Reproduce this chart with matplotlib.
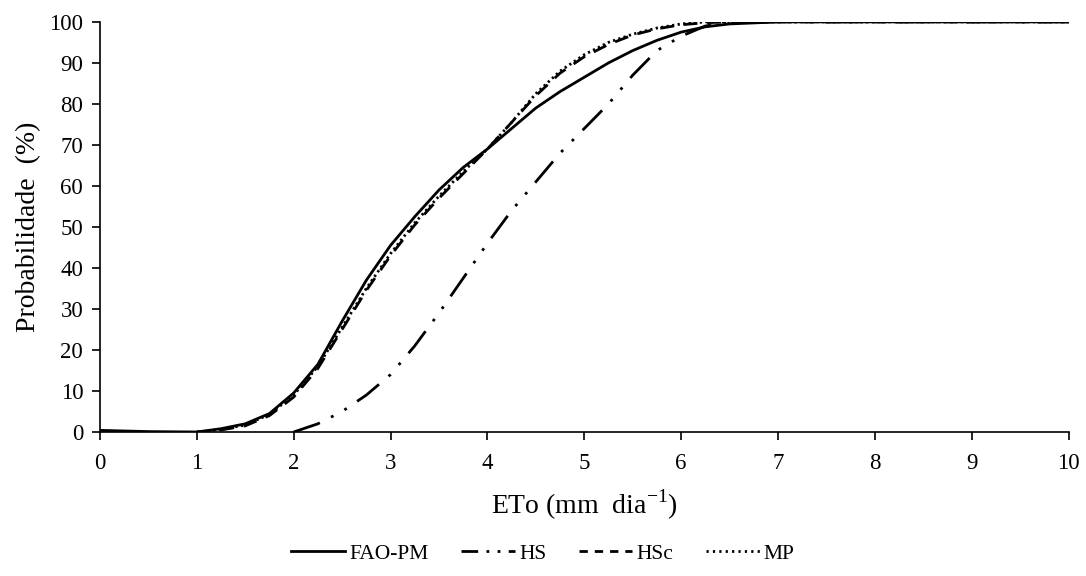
import numpy as np
import matplotlib.pyplot as plt
from matplotlib.lines import Line2D

# Curvas de probabilidade acumulada (%)
x_fao = [0, 0.5, 1.0, 1.25, 1.5, 1.75, 2.0, 2.25, 2.5, 2.75, 3.0, 3.25, 3.5, 3.75, 4.0,
         4.25, 4.5, 4.75, 5.0, 5.25, 5.5, 5.75, 6.0, 6.25, 6.5, 7.0, 8.0, 9.0, 10.0]
y_fao = [0.4, 0.1, 0, 0.8, 2.0, 4.5, 9.5, 16.5, 27, 37, 45.5, 52.5, 59, 64.5, 69,
         74, 79, 83, 86.5, 90, 93, 95.5, 97.5, 98.8, 99.5, 100, 100, 100, 100]

x_hs = [2.0, 2.25, 2.5, 2.75, 3.0, 3.25, 3.5, 3.75, 4.0, 4.25, 4.5, 4.75, 5.0, 5.25,
        5.5, 5.75, 6.0, 6.25, 6.5, 7.0, 8.0, 9.0, 10.0]
y_hs = [0, 2, 5, 9, 14, 21, 29, 37.5, 46, 54, 61, 68, 74, 80,
        87, 93, 96.5, 99, 100, 100, 100, 100, 100]

x_hsc = [1.0, 1.25, 1.5, 1.75, 2.0, 2.25, 2.5, 2.75, 3.0, 3.25, 3.5, 3.75, 4.0, 4.25,
         4.5, 4.75, 5.0, 5.25, 5.5, 5.75, 6.0, 6.25, 6.5, 7.0, 8.0, 9.0, 10.0]
y_hsc = [0, 0.5, 1.5, 4, 8.5, 15.5, 25, 34.5, 43, 50.5, 57, 63, 69, 75.5,
         82, 87.5, 91.5, 94.5, 96.8, 98.3, 99.3, 99.8, 100, 100, 100, 100, 100]

x_mp = x_hsc
y_mp = [0, 0.6, 1.7, 4.3, 9, 16, 25.5, 35, 43.5, 51, 57.5, 63.5, 69, 75.5,
        82.5, 88, 92, 95, 97, 98.5, 99.5, 100, 100, 100, 100, 100, 100]

labels = ['FAO-PM', 'HS', 'HSc', 'MP']

plt.rcParams['font.family'] = ['Liberation Serif', 'DejaVu Serif']
plt.rcParams['mathtext.fontset'] = 'custom'
plt.rcParams['mathtext.rm'] = 'Liberation Serif'

fig, ax = plt.subplots(figsize=(10.86, 5.76), dpi=100)
fig.subplots_adjust(left=0.092, right=0.984, top=0.962, bottom=0.25)

lw = 2.0
ax.plot(x_fao, y_fao, color='black', lw=lw, zorder=5)
ax.plot(x_hs, y_hs, color='black', lw=lw, dashes=(10, 4.5, 1, 4.5, 1, 4.5))
ax.plot(x_hsc, y_hsc, color='black', lw=lw, dashes=(5, 3.5))
ax.plot(x_mp, y_mp, color='black', lw=lw, dashes=(0.8, 1.2))

ax.set_xlim(0, 10)
ax.set_ylim(0, 100)
ax.set_xticks(np.arange(0, 11, 1))
ax.set_yticks(np.arange(0, 101, 10))
for s in ['top', 'right']:
    ax.spines[s].set_visible(False)
for s in ['left', 'bottom']:
    ax.spines[s].set_linewidth(1.2)
ax.tick_params(direction='out', length=6, width=1.2, labelsize=16.5)
ax.tick_params(axis='x', pad=9)
ax.tick_params(axis='y', pad=6)

ax.set_xlabel('ETo (mm  dia$^{\\mathregular{-1}}$)', fontsize=20, labelpad=10)
ax.set_ylabel('Probabilidade  (%)', fontsize=20, labelpad=6)

# amostras da legenda com padroes mais curtos (como no Excel)
handles = [Line2D([], [], color='black', lw=lw),
           Line2D([], [], color='black', lw=lw, dashes=(6, 3, 1, 3, 1, 3)),
           Line2D([], [], color='black', lw=lw, dashes=(3, 2.5)),
           Line2D([], [], color='black', lw=lw, dashes=(0.8, 1.5))]
fig.legend(handles, labels, loc='lower center', bbox_to_anchor=(0.5, -0.012), ncol=4,
           frameon=False, fontsize=15.5, handlelength=2.5, handletextpad=0.2,
           columnspacing=1.5)

fig.savefig('out.png', dpi=100)
